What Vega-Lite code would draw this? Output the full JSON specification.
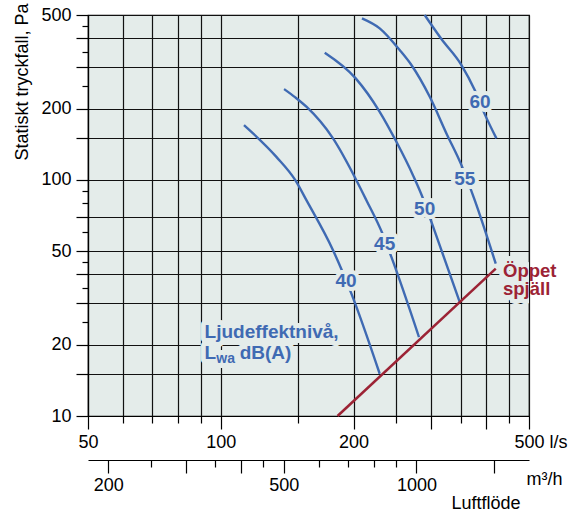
{
  "$schema": "https://vega.github.io/schema/vega-lite/v6.json",
  "width": 441,
  "height": 401,
  "autosize": {"type": "none"},
  "padding": {"left": 88, "top": 15, "right": 55, "bottom": 99},
  "background": "white",
  "config": {
    "view": {"fill": "#e4ecea", "stroke": "#000", "strokeWidth": 1.2},
    "font": "Liberation Sans",
    "axis": {
      "labelFont": "Liberation Sans",
      "titleFont": "Liberation Sans",
      "labelColor": "#000",
      "titleColor": "#000",
      "tickColor": "#000",
      "domainColor": "#000",
      "gridColor": "#111",
      "labelFontSize": 18,
      "titleFontSize": 18,
      "titleFontWeight": "normal",
      "gridWidth": 1.2,
      "tickWidth": 1.2,
      "domainWidth": 1.2,
      "labelOverlap": false,
      "labelFlush": false,
      "labelBound": false
    }
  },
  "datasets": {
    "curves": [
      {"lwa": 40, "ls": 112.9, "pa": 170.8},
      {"lwa": 40, "ls": 133.7, "pa": 125.3},
      {"lwa": 40, "ls": 147.6, "pa": 99.8},
      {"lwa": 40, "ls": 156.4, "pa": 82.1},
      {"lwa": 40, "ls": 179.7, "pa": 50.4},
      {"lwa": 40, "ls": 197.8, "pa": 33.0},
      {"lwa": 40, "ls": 229.3, "pa": 15.1},
      {"lwa": 45, "ls": 139.2, "pa": 242.7},
      {"lwa": 45, "ls": 147.6, "pa": 223.8},
      {"lwa": 45, "ls": 156.4, "pa": 204.3},
      {"lwa": 45, "ls": 179.7, "pa": 150},
      {"lwa": 45, "ls": 203, "pa": 99.8},
      {"lwa": 45, "ls": 213.9, "pa": 82.1},
      {"lwa": 45, "ls": 232.6, "pa": 59.3},
      {"lwa": 45, "ls": 243.7, "pa": 47.2},
      {"lwa": 45, "ls": 281.5, "pa": 21.6},
      {"lwa": 50, "ls": 172.1, "pa": 346},
      {"lwa": 50, "ls": 202.3, "pa": 269.5},
      {"lwa": 50, "ls": 229.3, "pa": 194.5},
      {"lwa": 50, "ls": 250.2, "pa": 145.1},
      {"lwa": 50, "ls": 272.8, "pa": 104.8},
      {"lwa": 50, "ls": 287.5, "pa": 83.5},
      {"lwa": 50, "ls": 300.4, "pa": 66.4},
      {"lwa": 50, "ls": 348.3, "pa": 30.4},
      {"lwa": 55, "ls": 209, "pa": 484},
      {"lwa": 55, "ls": 229.3, "pa": 439},
      {"lwa": 55, "ls": 254.5, "pa": 355.3},
      {"lwa": 55, "ls": 270.6, "pa": 306.9},
      {"lwa": 55, "ls": 297.8, "pa": 225.1},
      {"lwa": 55, "ls": 324.9, "pa": 157.5},
      {"lwa": 55, "ls": 351.4, "pa": 115.6},
      {"lwa": 55, "ls": 376.6, "pa": 82.1},
      {"lwa": 55, "ls": 420.3, "pa": 44.2},
      {"lwa": 60, "ls": 290, "pa": 500},
      {"lwa": 60, "ls": 316.5, "pa": 395.6},
      {"lwa": 60, "ls": 351.4, "pa": 306.9},
      {"lwa": 60, "ls": 376.6, "pa": 240.4},
      {"lwa": 60, "ls": 396.8, "pa": 190.1},
      {"lwa": 60, "ls": 421.8, "pa": 150}
    ],
    "open": [
      {"ls": 184, "pa": 10},
      {"ls": 420.3, "pa": 42.1}
    ],
    "labels": [
      {"t": "40", "ls": 192.3, "pa": 37.4, "k": "curve"},
      {"t": "45", "ls": 235.3, "pa": 53.4, "k": "curve"},
      {"t": "50", "ls": 290, "pa": 75.2, "k": "curve"},
      {"t": "55", "ls": 357.5, "pa": 100.8, "k": "curve"},
      {"t": "60", "ls": 387.2, "pa": 214.4, "k": "curve"},
      {"t": "Ljudeffektnivå,", "ls": 91.9, "pa": 21.5, "k": "leg"},
      {"t": "L", "ls": 91.9, "pa": 17.5, "k": "leg"},
      {"t": "wa", "ls": 97.7, "pa": 17.5, "k": "sub"},
      {"t": "dB(A)", "ls": 110.4, "pa": 17.5, "k": "leg"},
      {"t": "Öppet", "ls": 436.5, "pa": 38.8, "k": "red"},
      {"t": "spjäll", "ls": 436.5, "pa": 32.5, "k": "red"}
    ],
    "flow": [{"m3h": 180}, {"m3h": 1800}]
  },
  "layer": [
    {
      "layer": [
        {
          "data": {"name": "curves"},
          "mark": {"type": "line", "interpolate": "monotone", "color": "#3f6ab3", "strokeWidth": 2.4},
          "encoding": {
            "x": {
              "field": "ls", "type": "quantitative",
              "scale": {"type": "log", "domain": [50, 500], "nice": false},
              "axis": {
                "orient": "bottom",
                "values": [50, 60, 70, 80, 90, 100, 150, 200, 250, 300, 350, 400, 450, 500],
                "title": null,
                "grid": true,
                "labelExpr": "datum.value == 500 ? '500 l/s' : (indexof([50, 100, 200], datum.value) >= 0 ? datum.value + '' : '')",
                "tickSize": {"condition": {"test": "indexof([50, 100, 200, 300, 400, 500], datum.value) >= 0", "value": 13}, "value": 7},
                "labelPadding": 4,
                "labelAlign": {"condition": {"test": "datum.value == 500", "value": "left"}, "value": "center"},
                "labelOffset": {"condition": {"test": "datum.value == 500", "value": -15}, "value": 0}
              }
            },
            "y": {
              "field": "pa", "type": "quantitative",
              "scale": {"type": "log", "domain": [10, 500], "nice": false},
              "axis": {
                "values": [10, 15, 20, 25, 30, 35, 40, 45, 50, 60, 70, 80, 90, 100, 150, 200, 250, 300, 350, 400, 450, 500],
                "title": "Statiskt tryckfall, Pa",
                "grid": true,
                "labelExpr": "indexof([10, 20, 50, 100, 200, 500], datum.value) >= 0 ? datum.value + '' : ''",
                "tickSize": {"condition": {"test": "indexof([25, 35, 45, 60, 80, 90, 250, 350, 450], datum.value) >= 0", "value": 6}, "value": 12},
                "gridOpacity": {"condition": {"test": "indexof([25, 35, 45, 60, 80, 90, 250, 350, 450], datum.value) >= 0", "value": 0}, "value": 1},
                "labelPadding": 5,
                "titleAngle": -90,
                "titleX": -61,
                "titleY": -12,
                "titleAlign": "right",
                "titleBaseline": "alphabetic"
              }
            },
            "detail": {"field": "lwa", "type": "nominal"}
          }
        },
        {
          "data": {"name": "open"},
          "mark": {"type": "line", "color": "#9c2335", "strokeWidth": 2.5},
          "encoding": {
            "x": {"field": "ls", "type": "quantitative"},
            "y": {"field": "pa", "type": "quantitative"}
          }
        },
        {
          "data": {"name": "labels"},
          "transform": [{"filter": "datum.k == 'curve'"}],
          "mark": {"type": "text", "font": "Liberation Sans", "fontWeight": "bold", "fontSize": 19, "align": "center", "baseline": "middle", "stroke": "#e4ecea", "strokeWidth": 8, "strokeJoin": "round", "fill": "#e4ecea"},
          "encoding": {
            "x": {"field": "ls", "type": "quantitative"},
            "y": {"field": "pa", "type": "quantitative"},
            "text": {"field": "t"}
          }
        },
        {
          "data": {"name": "labels"},
          "transform": [{"filter": "datum.k == 'curve'"}],
          "mark": {"type": "text", "font": "Liberation Sans", "fontWeight": "bold", "fontSize": 19, "align": "center", "baseline": "middle", "fill": "#3f6ab3"},
          "encoding": {
            "x": {"field": "ls", "type": "quantitative"},
            "y": {"field": "pa", "type": "quantitative"},
            "text": {"field": "t"}
          }
        },
        {
          "data": {"name": "labels"},
          "transform": [{"filter": "datum.k == 'leg'"}],
          "mark": {"type": "text", "font": "Liberation Sans", "fontWeight": "bold", "fontSize": 19, "align": "left", "baseline": "alphabetic", "stroke": "#e4ecea", "strokeWidth": 10, "strokeJoin": "round", "fill": "#e4ecea"},
          "encoding": {
            "x": {"field": "ls", "type": "quantitative"},
            "y": {"field": "pa", "type": "quantitative"},
            "text": {"field": "t"}
          }
        },
        {
          "data": {"name": "labels"},
          "transform": [{"filter": "datum.k == 'sub'"}],
          "mark": {"type": "text", "font": "Liberation Sans", "fontWeight": "bold", "fontSize": 14, "align": "left", "baseline": "alphabetic", "dy": 4, "stroke": "#e4ecea", "strokeWidth": 10, "strokeJoin": "round", "fill": "#e4ecea"},
          "encoding": {
            "x": {"field": "ls", "type": "quantitative"},
            "y": {"field": "pa", "type": "quantitative"},
            "text": {"field": "t"}
          }
        },
        {
          "data": {"name": "labels"},
          "transform": [{"filter": "datum.k == 'leg'"}],
          "mark": {"type": "text", "font": "Liberation Sans", "fontWeight": "bold", "fontSize": 19, "align": "left", "baseline": "alphabetic", "fill": "#3f6ab3"},
          "encoding": {
            "x": {"field": "ls", "type": "quantitative"},
            "y": {"field": "pa", "type": "quantitative"},
            "text": {"field": "t"}
          }
        },
        {
          "data": {"name": "labels"},
          "transform": [{"filter": "datum.k == 'sub'"}],
          "mark": {"type": "text", "font": "Liberation Sans", "fontWeight": "bold", "fontSize": 14, "align": "left", "baseline": "alphabetic", "dy": 4, "fill": "#3f6ab3"},
          "encoding": {
            "x": {"field": "ls", "type": "quantitative"},
            "y": {"field": "pa", "type": "quantitative"},
            "text": {"field": "t"}
          }
        },
        {
          "data": {"name": "labels"},
          "transform": [{"filter": "datum.k == 'red'"}],
          "mark": {"type": "text", "clip": true, "font": "Liberation Sans", "fontWeight": "bold", "fontSize": 18.5, "align": "left", "baseline": "alphabetic", "stroke": "#e4ecea", "strokeWidth": 10, "strokeJoin": "round", "fill": "#e4ecea"},
          "encoding": {
            "x": {"field": "ls", "type": "quantitative"},
            "y": {"field": "pa", "type": "quantitative"},
            "text": {"field": "t"}
          }
        },
        {
          "data": {"name": "labels"},
          "transform": [{"filter": "datum.k == 'red'"}],
          "mark": {"type": "text", "font": "Liberation Sans", "fontWeight": "bold", "fontSize": 18.5, "align": "left", "baseline": "alphabetic", "fill": "#9c2335"},
          "encoding": {
            "x": {"field": "ls", "type": "quantitative"},
            "y": {"field": "pa", "type": "quantitative"},
            "text": {"field": "t"}
          }
        }
      ]
    },
    {
      "data": {"name": "flow"},
      "mark": {"type": "point", "opacity": 0},
      "encoding": {
        "x": {
          "field": "m3h", "type": "quantitative",
          "scale": {"type": "log", "domain": [180, 1800], "nice": false},
          "axis": {
            "orient": "bottom",
            "offset": 44,
            "grid": false,
            "values": [200, 250, 300, 350, 400, 450, 500, 600, 700, 800, 900, 1000, 1500, 1800],
            "labelExpr": "datum.value == 1800 ? 'm³/h' : (indexof([200, 500, 1000], datum.value) >= 0 ? datum.value + '' : '')",
            "tickSize": {"condition": {"test": "indexof([200, 300, 400, 500, 1000, 1500], datum.value) >= 0", "value": 13}, "value": 7},
            "tickOpacity": {"condition": {"test": "datum.value == 1800", "value": 0}, "value": 1},
            "labelAlign": {"condition": {"test": "datum.value == 1800", "value": "left"}, "value": "center"},
            "labelOffset": {"condition": {"test": "datum.value == 1800", "value": -3}, "value": 0},
            "labelPadding": 3,
            "title": "Luftflöde",
            "titleX": 432,
            "titleY": 48,
            "titleAlign": "right",
            "titleBaseline": "alphabetic"
          }
        }
      }
    }
  ],
  "resolve": {"scale": {"x": "independent"}, "axis": {"x": "independent"}}
}
